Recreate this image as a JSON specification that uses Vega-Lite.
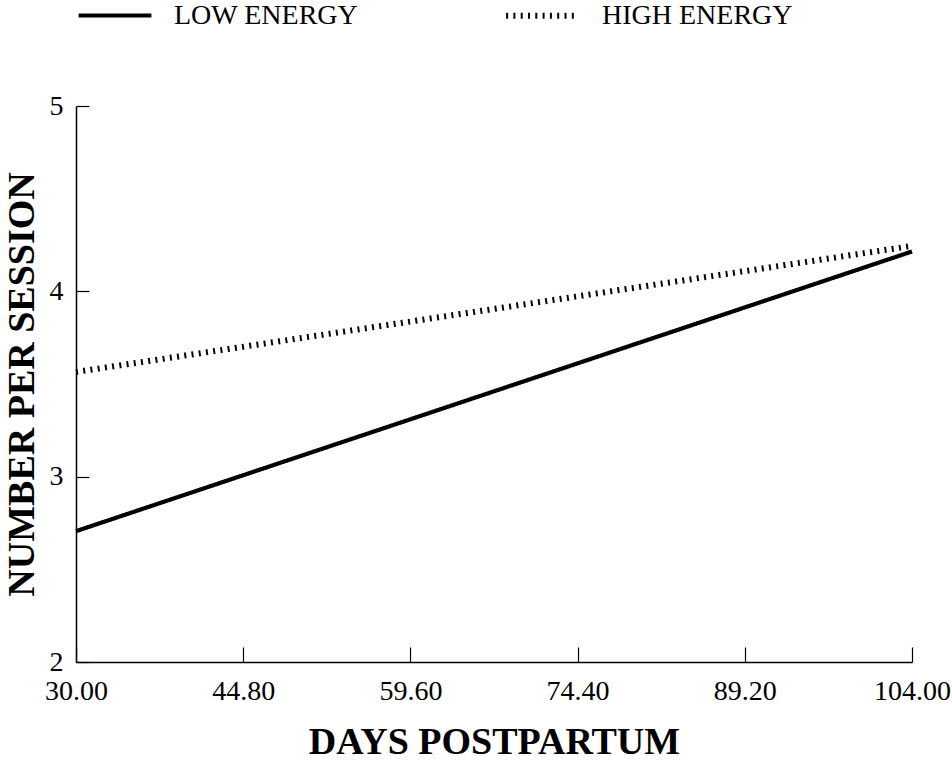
{
  "$schema": "https://vega.github.io/schema/vega-lite/v6.json",
  "autosize": {"type": "none"},
  "width": 836,
  "height": 556,
  "padding": {"left": 76, "top": 106, "right": 40, "bottom": 99},
  "background": "white",
  "config": {
    "font": "Liberation Serif",
    "view": {"stroke": null},
    "axis": {
      "grid": false,
      "domainColor": "black",
      "domainWidth": 1.5,
      "tickColor": "black",
      "tickWidth": 1.2,
      "labelFont": "Liberation Serif",
      "labelFontSize": 28,
      "labelColor": "black",
      "titleFont": "Liberation Serif",
      "titleFontSize": 38,
      "titleFontWeight": "bold",
      "titleColor": "black"
    },
    "legend": {
      "labelFont": "Liberation Serif",
      "labelFontSize": 28,
      "labelColor": "black",
      "labelLimit": 0,
      "padding": 0
    }
  },
  "data": {
    "values": [
      {"days": 30, "energy": "LOW ENERGY", "n": 2.706},
      {"days": 104, "energy": "LOW ENERGY", "n": 4.215},
      {"days": 30, "energy": "HIGH ENERGY", "n": 3.565},
      {"days": 104, "energy": "HIGH ENERGY", "n": 4.245}
    ]
  },
  "mark": {"type": "line", "color": "black", "strokeCap": "butt"},
  "encoding": {
    "x": {
      "field": "days",
      "type": "quantitative",
      "scale": {"domain": [30, 104], "nice": false, "zero": false},
      "axis": {
        "values": [30, 44.8, 59.6, 74.4, 89.2, 104],
        "format": ".2f",
        "labelFlush": false,
        "tickSize": -15,
        "labelPadding": 30,
        "title": "DAYS POSTPARTUM",
        "titlePadding": 18
      }
    },
    "y": {
      "field": "n",
      "type": "quantitative",
      "scale": {"domain": [2, 5], "nice": false, "zero": false},
      "axis": {
        "values": [2, 3, 4, 5],
        "format": "d",
        "tickSize": -13,
        "labelPadding": 26,
        "labelFlush": false,
        "title": "NUMBER PER SESSION",
        "titlePadding": 8
      }
    },
    "strokeDash": {
      "field": "energy",
      "type": "nominal",
      "scale": {"domain": ["LOW ENERGY", "HIGH ENERGY"], "range": [[1, 0], [2, 5.3]]},
      "legend": {
        "title": null,
        "orient": "top",
        "direction": "horizontal",
        "offset": 76,
        "symbolType": "stroke",
        "symbolSize": 5300,
        "symbolStrokeWidth": 4.5,
        "symbolStrokeColor": "black",
        "labelOffset": 20,
        "columnPadding": 135
      }
    },
    "strokeWidth": {
      "field": "energy",
      "type": "nominal",
      "scale": {"domain": ["LOW ENERGY", "HIGH ENERGY"], "range": [4.2, 6]},
      "legend": null
    }
  }
}
